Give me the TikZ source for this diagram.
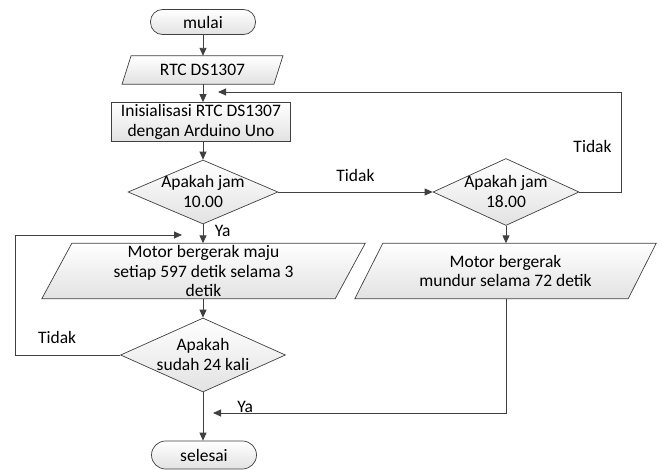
\documentclass[tikz,border=0pt]{standalone}
\usepackage{fontspec}
\setmainfont{Carlito}
\usetikzlibrary{arrows.meta}
\usetikzlibrary{shapes.geometric}
\usetikzlibrary{backgrounds}
\definecolor{linegray}{HTML}{404040}
\definecolor{fillgray}{HTML}{E2E2E2}
% jajaran genjang di belakang node
\newcommand{\ioshape}[2]{\begin{pgfonlayer}{background}
	\draw[ioline] ([xshift=#2]#1.north west) -- ([xshift=#2]#1.north east) -- ([xshift=-#2]#1.south east) -- ([xshift=-#2]#1.south west) -- cycle;
	\end{pgfonlayer}}
% teks belah ketupat tanpa ukuran
\newcommand{\dtext}[1]{\makebox[0pt]{\smash{\lower6pt\hbox{\begin{tabular}{@{}c@{}}#1\end{tabular}}}}}

\begin{document}
\begin{tikzpicture}[x=1pt,y=-1pt,font=\fontsize{17.5}{19.5}\selectfont,>={Triangle[length=8pt,width=7pt]},
	base/.style={draw=linegray,line width=0.7pt,top color=white,bottom color=fillgray,align=flush center,inner sep=0pt},
	ioline/.style={draw=linegray,line width=0.7pt,top color=white,bottom color=fillgray},
	terminal/.style={base,rectangle,rounded corners=12pt,minimum width=105pt,minimum height=25pt},
	io/.style={rectangle,align=flush center,inner sep=0pt,minimum height=55pt},
	process/.style={base,rectangle,minimum width=179pt,minimum height=39pt},
	decision/.style={base,diamond,inner sep=0pt},
	line/.style={draw=linegray,line width=0.9pt}]
	\useasboundingbox (0,0) rectangle (661,474);
		\node[terminal] (mulai) at (203,22) {mulai};
		\node[io,minimum width=151.5pt,minimum height=28pt] (rtc) at (202.5,70) {RTC DS1307};
		\ioshape{rtc}{4.5pt}
		\node[process] (init) at (201,122) {Inisialisasi RTC DS1307\\dengan Arduino Uno};
		\node[decision,minimum width=150pt,minimum height=64pt] (jam10) at (203,192) {\dtext{Apakah jam\\10.00}};
		\node[decision,minimum width=146pt,minimum height=67pt] (jam18) at (506,192) {\dtext{Apakah jam\\18.00}};
		\node[io,minimum width=293pt] (maju) at (203.5,271) {Motor bergerak maju\\setiap 597 detik selama 3\\detik};
		\ioshape{maju}{15pt}
		\node[io,minimum width=273pt] (mundur) at (505.5,271) {Motor bergerak\\mundur selama 72 detik};
		\ioshape{mundur}{14pt}
		\node[decision,minimum width=165pt,minimum height=74pt] (kali) at (203,355) {\dtext{Apakah\\sudah 24 kali}};
		\node[terminal,rounded corners=14pt,minimum height=28pt] (selesai) at (204,455) {selesai};
		\coordinate (back1) at (218,92);
		\coordinate (back2) at (182,235);
		\coordinate (back3) at (213,413);
		% alur utama
		\draw[line,->] (mulai.south) -- (mulai.south |- rtc.north);
		\draw[line,->] (rtc.south -| mulai) -- (mulai |- init.north);
		\draw[line,->] (init.south -| jam10.north) -- (jam10.north);
		\draw[line,->] (jam10.south) -- (jam10.south |- maju.north) node[midway,right,xshift=8pt,yshift=3pt] {Ya};
		\draw[line,->] (maju.south -| kali.north) -- (kali.north);
		\draw[line,->] (kali.south) -- (kali.south |- selesai.north);
		\draw[line,->] (jam10.east) -- (jam18.west) node[midway,above,yshift=7pt] {Tidak};
		\draw[line,->] (jam18.south) -- (jam18.south |- mundur.north);
		% kembali
		\draw[line,->] (jam18.east) -- ++(42,0) |- (back1) node[pos=0.25,left,xshift=-6pt,yshift=-4pt] {Tidak};
		\draw[line,->] (kali.west) -- ++(-105,0) node[pos=0.6,above,yshift=8pt] {Tidak} |- (back2);
		\draw[line,->] (mundur.south -| jam18) |- (back3) node[pos=0.945,above,yshift=-3pt] {Ya};
	\end{tikzpicture}
\end{document}
